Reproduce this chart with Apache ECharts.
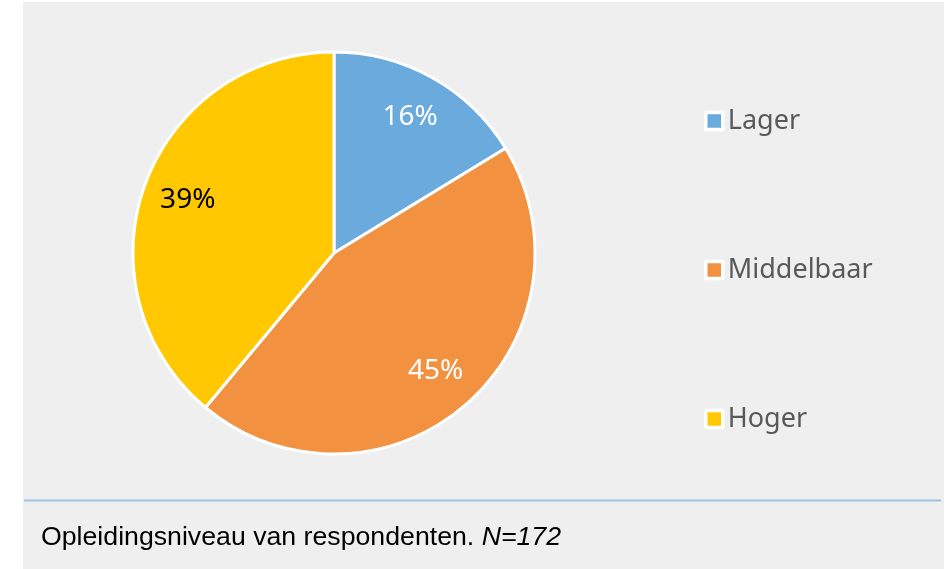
<!DOCTYPE html>
<html>
<head>
<meta charset="utf-8">
<script src="https://cdn.jsdelivr.net/npm/echarts@6/dist/echarts.min.js"></script>
<style>
  html, body { margin: 0; padding: 0; background: #fff; }
  #myChart { width: 948px; height: 569px; }
</style>
</head>
<body>
<div id="myChart"></div>
<script>
  // opleidingsniveau, aantallen (N=172)
  var categories = ['Lager', 'Middelbaar', 'Hoger'];
  var counts = [28, 77, 67];
  var colors = ['#6aaadc', '#f29241', '#ffc800'];
  var labelColors = ['#ffffff', '#ffffff', '#000000'];

  var pieData = categories.map(function (name, i) {
    return {
      name: name,
      value: counts[i],
      itemStyle: { color: colors[i] }
    };
  });

  var myChart = echarts.init(document.getElementById('myChart'));
  var option = {
    backgroundColor: '#ffffff',
    animation: false,
    graphic: [
      { type: 'rect', z: -10, shape: { x: 23, y: 2, width: 921, height: 567 }, style: { fill: '#efefef' } },
      { type: 'line', z: -5, shape: { x1: 24, y1: 500.5, x2: 941, y2: 500.5 }, style: { stroke: '#9cc3e5', lineWidth: 2 } }
    ],
    title: {
      left: 41,
      top: 524,
      padding: 0,
      text: '{a|Opleidingsniveau van respondenten. }{b|N=172}',
      textStyle: {
        fontWeight: 'normal',
        rich: {
          a: { fontFamily: 'Liberation Sans', fontSize: 26.7, lineHeight: 28, color: '#000000', fontWeight: 'normal' },
          b: { fontFamily: 'Liberation Sans', fontSize: 26.7, lineHeight: 28, color: '#000000', fontWeight: 'normal', fontStyle: 'italic' }
        }
      }
    },
    legend: {
      orient: 'vertical',
      left: 704,
      top: 106,
      padding: 0,
      icon: 'rect',
      itemWidth: 17,
      itemHeight: 17,
      itemGap: 119,
      data: categories,
      itemStyle: { borderColor: '#ffffff', borderWidth: 3.5 },
      textStyle: { fontFamily: 'Noto Sans', fontSize: 27, color: '#595959', lineHeight: 30 }
    },
    series: [
      {
        name: 'Opleidingsniveau',
        type: 'pie',
        center: [334, 253],
        radius: [0, 201],
        startAngle: 90,
        clockwise: true,
        percentPrecision: 0,
        itemStyle: { borderColor: '#ffffff', borderWidth: 3 },
        label: { show: false },
        labelLine: { show: false },
        emphasis: { disabled: true },
        data: pieData
      },
      {
        // onzichtbare ring om de percentages op ~3/4 van de straal te zetten
        name: 'labels',
        type: 'pie',
        silent: true,
        center: [334, 253],
        radius: [104, 201],
        startAngle: 90,
        clockwise: true,
        percentPrecision: 0,
        legendHoverLink: false,
        itemStyle: { color: 'rgba(0,0,0,0)', borderWidth: 0 },
        label: {
          show: true,
          position: 'inside',
          formatter: '{d}%',
          fontFamily: 'Noto Sans',
          fontSize: 28
        },
        labelLine: { show: false },
        emphasis: { disabled: true },
        data: categories.map(function (name, i) {
          return { name: name + ' ', value: counts[i], label: { color: labelColors[i] } };
        })
      }
    ]
  };
  myChart.setOption(option);
</script>
</body>
</html>
